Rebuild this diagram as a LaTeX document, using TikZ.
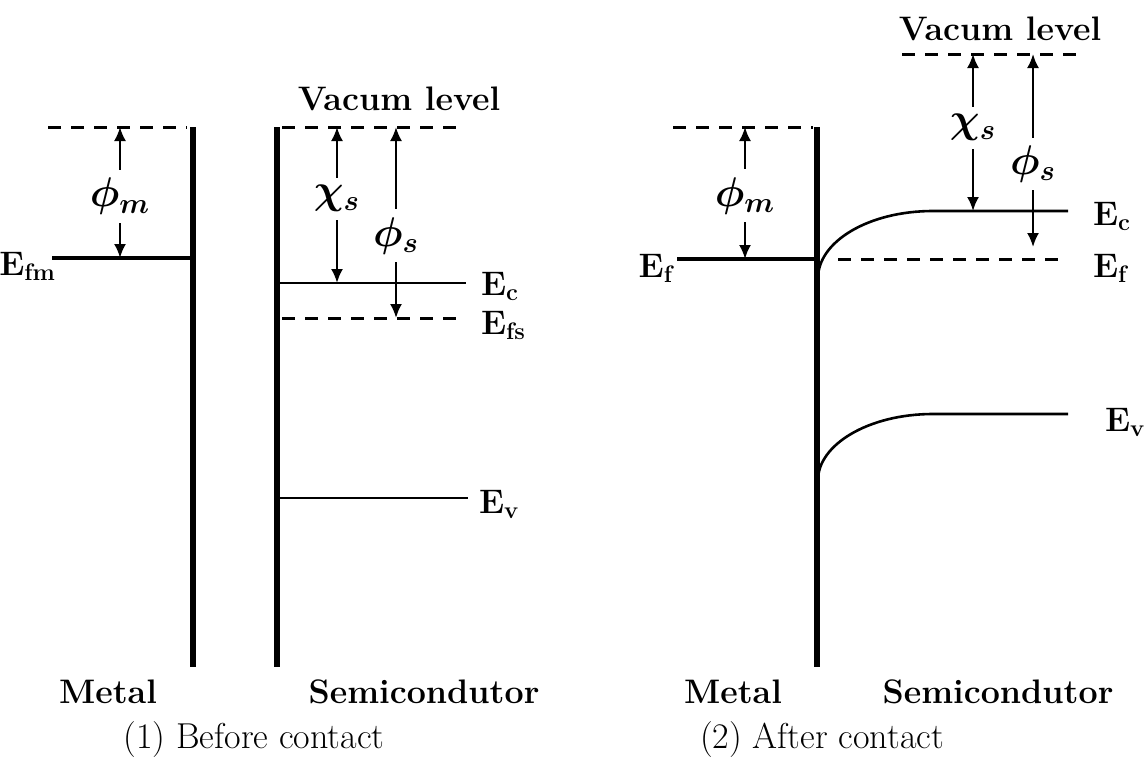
\documentclass[tikz,border=0pt]{standalone}
\usepackage{bm}
\usetikzlibrary{arrows.meta, positioning}
\tikzset{
  wall/.style={line width=3pt}, % the two surfaces
  level/.style={line width=1.3pt}, % band edges
  fermi/.style={line width=2pt}, % fermi level of the metal
  vacuum/.style={line width=1.5pt, dash pattern=on 6.5pt off 5pt}, % dashed levels
  gap/.style={{Latex[length=7pt,width=6pt]}-{Latex[length=7pt,width=6pt]},
    line width=1.1pt}, % energy differences
  gaplabel/.style={fill=white, inner xsep=1pt, inner ysep=4pt,
    font=\fontsize{21}{24}\selectfont},
  bandname/.style={font=\fontsize{17}{20}\selectfont\bfseries},
  caption/.style={font=\fontsize{18}{21}\selectfont},
}

\begin{document}
\begin{tikzpicture}[x=0.5pt, y=-0.5pt]
  \useasboundingbox (0,0) rectangle (1144,762);

  % (1) before contact
  \draw[vacuum] (48,127) -- (187,127);
  \draw[wall] (193,127) -- (193,667);
  \draw[fermi] (52,258) -- (190,258);
  \draw[wall] (277,127) -- (277,667);
  \draw[vacuum] (282,127) -- (457,127);
  \draw[level] (277,283) -- (466,283);
  \draw[vacuum] (282,318) -- (457,318);
  \draw[level] (277,498) -- (468,498);

  \coordinate (phim_top_1) at (120,127);
  \coordinate (phim_bot_1) at (120,258);
  \coordinate (chi_top_1) at (337,127);
  \coordinate (chi_bot_1) at (337,283);
  \coordinate (phis_top_1) at (396,127);
  \coordinate (phis_bot_1) at (396,318);

  \draw[gap] (phim_top_1) -- node[gaplabel, pos=.53] (phim_1) {$\bm{\phi_m}$} (phim_bot_1);
  \draw[gap] (chi_top_1) -- node[gaplabel, pos=.46] (chi_1) {$\bm{\chi_s}$} (chi_bot_1);
  \draw[gap] (phis_top_1) -- node[gaplabel, pos=.57] (phis_1) {$\bm{\phi_s}$} (phis_bot_1);

  \node[bandname, anchor=base] (vac_1) at (399,110) {Vacum level};
  \node[bandname, anchor=base east] (efm_1) at (63,275) {E\textsubscript{fm}};
  \node[bandname, anchor=base west] (ec_1) at (474,295) {E\textsubscript{c}};
  \node[bandname, anchor=base west] (efs_1) at (474,334) {E\textsubscript{fs}};
  \node[bandname, anchor=base west] (ev_1) at (472,513) {E\textsubscript{v}};
  \node[bandname, anchor=base] (metal_1) at (108,703) {Metal};
  \node[bandname, anchor=base] (semi_1) at (424,703) {Semicondutor};
  \node[caption, anchor=base] (cap_1) at (254,748) {(1) Before contact};

  % (2) after contact
  \draw[vacuum] (673,127) -- (813,127);
  \draw[wall] (817,127) -- (817,667);
  \draw[fermi] (677,259) -- (815,259);
  \draw[vacuum] (902,54) -- (1080,54);
  \draw[level] (818,278) .. controls (818,242) and (868,211) .. (933,211) -- (1068,211);
  \draw[vacuum] (838,259) -- (1060,259);
  \draw[level] (818,480) .. controls (818,445) and (868,414) .. (933,414) -- (1068,414);

  \coordinate (phim_top_2) at (745,127);
  \coordinate (phim_bot_2) at (745,259);
  \coordinate (chi_top_2) at (973,54);
  \coordinate (chi_bot_2) at (973,211);
  \coordinate (phis_top_2) at (1033,54);
  \coordinate (phis_bot_2) at (1033,247);

  \draw[gap] (phim_top_2) -- node[gaplabel, pos=.52] (phim_2) {$\bm{\phi_m}$} (phim_bot_2);
  \draw[gap] (chi_top_2) -- node[gaplabel, pos=.47] (chi_2) {$\bm{\chi_s}$} (chi_bot_2);
  \draw[gap] (phis_top_2) -- node[gaplabel, pos=.57] (phis_2) {$\bm{\phi_s}$} (phis_bot_2);

  \node[bandname, anchor=base] (vac_2) at (1000,40) {Vacum level};
  \node[bandname, anchor=base east] (ef_m_2) at (680,277) {E\textsubscript{f}};
  \node[bandname, anchor=base west] (ec_2) at (1086,225) {E\textsubscript{c}};
  \node[bandname, anchor=base west] (ef_s_2) at (1086,277) {E\textsubscript{f}};
  \node[bandname, anchor=base west] (ev_2) at (1098,431) {E\textsubscript{v}};
  \node[bandname, anchor=base] (metal_2) at (733,703) {Metal};
  \node[bandname, anchor=base] (semi_2) at (998,703) {Semicondutor};
  \node[caption, anchor=base] (cap_2) at (822,748) {(2) After contact};
\end{tikzpicture}
\end{document}
